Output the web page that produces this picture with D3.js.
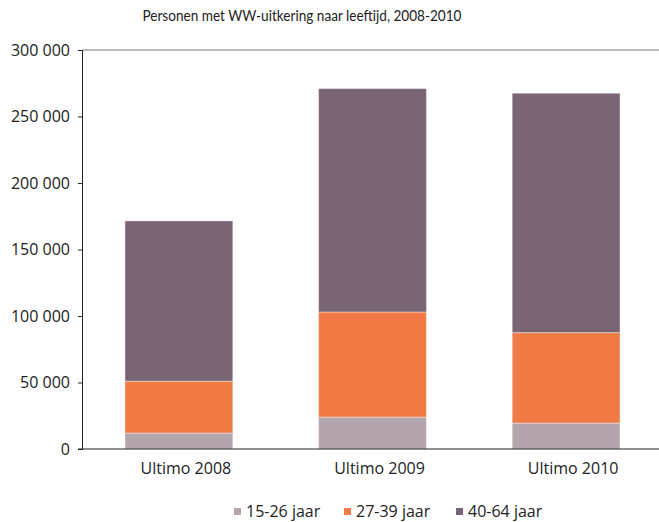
<!DOCTYPE html>
<html>
<head>
<meta charset="utf-8">
<script src="https://cdn.jsdelivr.net/npm/d3@7"></script>
<style>
  body { margin: 0; background: #fff; }
  svg text { font-family: "Open Sans", sans-serif; fill: #222; }
</style>
</head>
<body>
<svg id="chart" width="659" height="522"></svg>
<script>
const years = ['Ultimo 2008', 'Ultimo 2009', 'Ultimo 2010'];
const ageGroups = ['15-26 jaar', '27-39 jaar', '40-64 jaar'];
const young = [12000, 24000, 19500];
const middle = [39000, 79000, 68000];
const older = [120500, 168000, 180000];
const yTicks = [0, 50000, 100000, 150000, 200000, 250000, 300000];
const colors = ['#b4a5ac', '#f27b45', '#7a6575'];

const rows = years.map((y, i) => ({
  year: y,
  '15-26 jaar': young[i],
  '27-39 jaar': middle[i],
  '40-64 jaar': older[i]
}));

const svg = d3.select('#chart');
const plotLeft = 82, plotTop = 50, plotBottom = 449, plotRight = 659;

const x = d3.scaleBand()
  .domain(years)
  .range([plotLeft, 663])
  .paddingInner(0.443)
  .paddingOuter(0.222);

const y = d3.scaleLinear()
  .domain([0, 300000])
  .range([plotBottom, plotTop]);

const series = d3.stack().keys(ageGroups)(rows);

const fmt = d => d3.format(',')(d).replace(/,/g, ' ');

// title (source font is condensed, so squeeze to its width)
svg.append('text')
  .attr('x', 302)
  .attr('y', 21)
  .attr('text-anchor', 'middle')
  .attr('textLength', 319)
  .attr('lengthAdjust', 'spacingAndGlyphs')
  .style('font-family', 'Lato, sans-serif')
  .style('font-size', '15.5px')
  .text('Personen met WW-uitkering naar leeftijd, 2008-2010');

// top border line
svg.append('line')
  .attr('x1', plotLeft).attr('x2', plotRight)
  .attr('y1', y(300000)).attr('y2', y(300000))
  .attr('stroke', '#777').attr('stroke-width', 1);

// bars
svg.append('g')
  .selectAll('g')
  .data(series)
  .join('g')
    .attr('fill', (d, i) => colors[i])
  .selectAll('rect')
  .data(d => d)
  .join('rect')
    .attr('x', d => x(d.data.year))
    .attr('y', d => y(d[1]))
    .attr('width', x.bandwidth())
    .attr('height', d => y(d[0]) - y(d[1]))
    .attr('stroke', '#fff')
    .attr('stroke-opacity', 0.4)
    .attr('stroke-width', 1);

// y axis
const yAxis = svg.append('g')
  .attr('transform', 'translate(' + plotLeft + ',0)')
  .call(d3.axisLeft(y).tickValues(yTicks).tickFormat(fmt).tickSize(4).tickPadding(8));
yAxis.select('.domain').attr('stroke', '#222');
yAxis.selectAll('.tick line').attr('stroke', '#222');
yAxis.selectAll('text').style('font-size', '16px').attr('fill', '#222');

// x axis
const xAxis = svg.append('g')
  .attr('transform', 'translate(0,' + plotBottom + ')')
  .call(d3.axisBottom(x).tickSize(0).tickPadding(14));
xAxis.select('.domain').remove();
xAxis.selectAll('text').style('font-size', '16px').attr('dx', 7).attr('fill', '#222');
svg.append('line')
  .attr('x1', plotLeft - 4).attr('x2', plotRight)
  .attr('y1', plotBottom).attr('y2', plotBottom)
  .attr('stroke', '#222').attr('stroke-width', 1);

// legend
const legendX = [234, 344, 456];
const legend = svg.append('g')
  .selectAll('g')
  .data(ageGroups)
  .join('g')
    .attr('transform', (d, i) => 'translate(' + legendX[i] + ',511)');
legend.append('rect')
  .attr('x', 0).attr('y', -3)
  .attr('width', 7).attr('height', 7)
  .attr('fill', (d, i) => colors[i]);
legend.append('text')
  .attr('x', 12).attr('y', 6)
  .style('font-size', '16px')
  .text(d => d);
</script>
</body>
</html>
